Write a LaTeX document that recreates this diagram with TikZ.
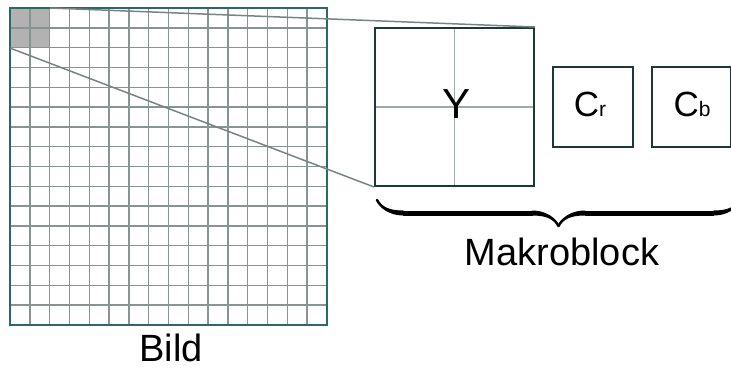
\documentclass[tikz,border=0pt]{standalone}
\usepackage{fontspec}
\setmainfont{Liberation Sans}
\usetikzlibrary{decorations.pathreplacing,calligraphy}
\definecolor{gridgray}{RGB}{135,148,148}
\definecolor{frameteal}{RGB}{45,105,100}
\definecolor{boxdark}{RGB}{30,55,55}
\definecolor{conngray}{RGB}{120,132,132}
\definecolor{cellfill}{RGB}{178,178,178}
\tikzset{
  gridline/.style={draw=gridgray, line width=1.4pt},
  frame/.style={draw=frameteal, line width=1.4pt, minimum width=317pt, minimum height=317pt, inner sep=0pt},
  blockbox/.style={draw=boxdark, line width=2pt, inner sep=0pt},
  crossline/.style={draw=gridgray!80, line width=1.4pt},
  connector/.style={draw=conngray, line width=1.5pt},
  bigtext/.style={font=\fontsize{38}{42}\selectfont, inner sep=0pt, anchor=base},
}
\begin{document}
\begin{tikzpicture}[x=1pt,y=-1pt]
\useasboundingbox (0,0) rectangle (731,369);
% gray 2x2 cells
\node[fill=cellfill, minimum width=39.625pt, minimum height=39.625pt, inner sep=0pt, anchor=north west] (mb) at (10,8) {};
% grid
\foreach \i in {1,...,15} {
  \draw[gridline] (10+\i*19.8125, 8) -- (10+\i*19.8125, 325);
  \draw[gridline] (10, 8+\i*19.8125) -- (327, 8+\i*19.8125);
}
\node[frame] (bild) at (168.5,166.5) {};
% Y block
\node[blockbox, minimum width=159pt, minimum height=158pt] (Y) at (454.5,107) {};
\draw[crossline] (Y.north) -- (Y.south);
\draw[crossline] (Y.west) -- (Y.east);
\node[blockbox, minimum width=159pt, minimum height=158pt] at (Y) {};
\node[font=\fontsize{42}{46}\selectfont, inner sep=0pt, anchor=base] (ylab) at (457,118) {Y};
% Cr, Cb
\node[blockbox, minimum width=80pt, minimum height=80pt] (cr) at (593,107) {};
\node[font=\fontsize{35}{40}\selectfont, inner sep=0pt, anchor=base] (crlab) at (590,117) {C{\fontsize{21}{24}\selectfont r}};
\node[blockbox, minimum width=79pt, minimum height=80pt] (cb) at (691.5,107) {};
\node[font=\fontsize{35}{40}\selectfont, inner sep=0pt, anchor=base] (cblab) at (692,117) {C{\fontsize{21}{24}\selectfont b}};
% connectors
\draw[connector] (mb.north east) -- (Y.north east);
\draw[connector] (mb.south west) -- (Y.south west);
% brace
\coordinate (bl) at (377,200);
\coordinate (br) at (740,200);
\draw[decorate, decoration={calligraphic brace, amplitude=26pt, mirror}, line width=5pt, pen colour=black] (bl) -- (br);
% labels
\node[bigtext] (mk) at (562,265) {Makroblock};
\node[bigtext] (bl2) at (171,361) {Bild};
\end{tikzpicture}
\end{document}
